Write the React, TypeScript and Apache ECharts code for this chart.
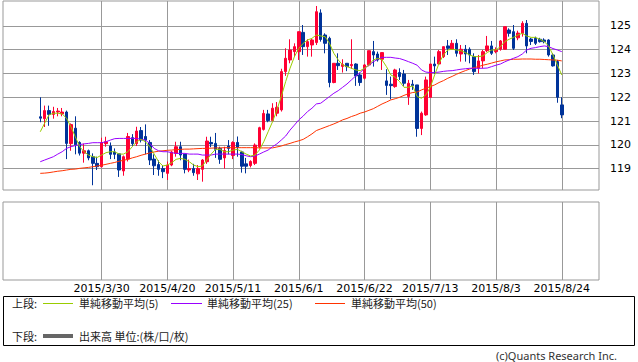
import React, { useEffect, useRef } from "react";
import * as echarts from "echarts";

// slot layout of the time axis (trading-day slots)
const SLOT_OFFSET = 8;
const SLOT_COUNT = 136;
const tickSlots = [22, 37, 52, 67, 82, 97, 112, 127];
const tickLabels = ["2015/3/30", "2015/4/20", "2015/5/11", "2015/6/1", "2015/6/22", "2015/7/13", "2015/8/3", "2015/8/24"];
const yTicks = [119, 120, 121, 122, 123, 124, 125];

const opens = [
  121.18, 121.10, 121.44, 121.28, 121.38, 121.30, 121.38, 120.05, 120.70, 120.10,
  119.65, 119.75, 119.50, 119.22, 119.08, 120.05, 119.95, 119.70, 119.62, 118.90,
  119.40, 120.30, 120.05, 120.60, 120.35, 120.10, 119.40, 119.17, 119.00, 118.80,
  119.15, 119.64, 119.92, 119.61, 118.94, 119.00, 118.78, 118.97, 119.29, 120.10,
  120.06, 119.85, 119.45, 119.95, 119.55, 120.10, 119.70, 119.20, 119.13, 119.22,
  119.92, 120.65, 121.30, 121.02, 121.33, 121.47, 123.08, 123.57, 123.92, 123.92,
  124.73, 124.13, 124.20, 124.30, 125.55, 124.62, 124.48, 122.62, 123.43, 123.30,
  123.43, 123.33, 123.40, 122.94, 122.80, 123.36, 123.92, 123.82, 123.60, 122.69,
  122.55, 122.45, 123.04, 122.98, 122.03, 122.55, 122.52, 120.69, 121.26, 122.00,
  123.40, 123.40, 123.71, 124.16, 124.02, 124.27, 123.82, 124.02, 124.02, 123.71,
  123.22, 123.53, 123.96, 124.16, 123.92, 124.02, 124.02, 124.83, 124.76, 124.50,
  124.69, 125.11, 124.45, 124.48, 124.44, 124.41, 124.41, 123.78, 123.50, 121.68,
];
const closes = [
  121.12, 121.44, 121.28, 121.40, 121.42, 121.38, 120.06, 120.85, 120.00, 119.65,
  119.75, 119.45, 119.22, 119.08, 120.09, 120.13, 119.60, 119.60, 118.94, 119.50,
  120.35, 120.05, 120.58, 120.20, 120.20, 119.36, 119.12, 118.97, 118.87, 119.15,
  119.70, 119.92, 119.57, 118.97, 119.00, 118.83, 119.00, 119.36, 120.16, 120.04,
  119.81, 119.39, 119.76, 119.85, 120.10, 119.90, 119.10, 119.10, 119.30, 119.99,
  120.72, 121.32, 121.02, 121.54, 121.58, 123.08, 123.64, 123.99, 124.13, 124.76,
  124.13, 124.34, 124.41, 125.60, 124.43, 124.27, 122.62, 123.43, 123.33, 123.38,
  123.29, 123.38, 122.90, 122.62, 123.36, 123.96, 123.78, 123.57, 123.88, 122.50,
  122.49, 123.15, 122.87, 122.59, 122.59, 122.49, 120.69, 121.33, 122.73, 123.40,
  123.32, 123.92, 124.13, 124.06, 124.27, 123.85, 124.02, 123.82, 123.78, 123.08,
  123.53, 123.92, 124.16, 123.85, 124.00, 124.37, 124.97, 124.69, 124.06, 124.70,
  125.11, 124.16, 124.35, 124.27, 124.34, 124.34, 123.78, 123.32, 122.00, 121.26,
];
const lows = [
  120.95, 120.75, 120.80, 121.10, 121.20, 121.20, 119.40, 119.75, 119.60, 119.55,
  119.25, 119.35, 118.30, 118.94, 119.05, 119.92, 119.40, 119.40, 118.65, 118.70,
  119.30, 119.95, 119.95, 120.10, 119.60, 119.15, 118.73, 118.70, 118.60, 118.52,
  119.10, 119.50, 119.35, 118.80, 118.85, 118.70, 118.52, 118.45, 119.20, 119.90,
  119.45, 119.20, 119.00, 119.60, 119.40, 119.50, 118.83, 118.80, 119.05, 119.15,
  119.85, 120.60, 120.95, 120.98, 121.20, 121.40, 122.90, 123.43, 123.70, 123.57,
  123.78, 123.71, 123.71, 124.20, 124.34, 123.85, 122.42, 122.59, 123.15, 123.04,
  123.10, 123.20, 122.48, 122.48, 122.75, 123.30, 123.29, 123.50, 123.15, 122.10,
  121.91, 122.40, 122.73, 122.48, 121.68, 122.31, 120.34, 120.41, 121.22, 122.00,
  122.98, 123.36, 123.65, 123.78, 123.99, 123.71, 123.50, 123.50, 123.43, 122.94,
  123.00, 123.22, 123.90, 123.78, 123.85, 123.96, 124.02, 124.55, 123.99, 124.40,
  124.55, 123.85, 124.20, 124.20, 124.30, 124.27, 123.71, 123.29, 121.77, 121.12,
];
const highs = [
  122.00, 121.65, 121.65, 121.60, 121.55, 121.55, 121.44, 120.90, 121.20, 120.15,
  120.05, 119.80, 119.64, 119.50, 120.30, 120.34, 120.10, 119.85, 119.64, 119.55,
  120.50, 120.45, 120.76, 120.75, 120.86, 120.20, 119.60, 119.35, 119.15, 119.30,
  119.75, 120.13, 120.13, 119.61, 119.38, 119.20, 119.15, 119.40, 120.34, 120.34,
  120.50, 119.92, 119.92, 120.20, 120.15, 120.35, 119.75, 119.45, 119.35, 120.06,
  120.76, 121.47, 121.47, 121.75, 121.80, 123.20, 124.06, 124.44, 124.27, 124.76,
  125.04, 124.44, 124.45, 125.84, 125.70, 124.69, 124.55, 123.43, 123.85, 123.60,
  123.43, 124.44, 123.43, 123.04, 123.40, 123.96, 124.37, 123.92, 123.88, 123.18,
  122.87, 123.20, 123.22, 123.15, 122.73, 122.73, 122.52, 121.40, 122.87, 123.40,
  123.71, 123.99, 124.13, 124.41, 124.41, 124.44, 124.20, 124.20, 124.10, 123.85,
  123.78, 123.99, 124.58, 124.37, 124.10, 124.41, 124.97, 124.90, 125.04, 124.80,
  125.20, 125.25, 124.50, 124.55, 124.50, 124.48, 124.44, 123.85, 123.57, 122.00,
];
const ma5 = [
  120.55, 120.91, 121.26, 121.33, 121.33, 121.30, 121.12, 120.76, 120.34, 119.92,
  119.71, 119.57, 119.50, 119.47, 119.57, 119.67, 119.71, 119.71, 119.61, 119.61,
  119.71, 119.92, 120.13, 120.23, 120.13, 119.92, 119.61, 119.29, 119.11, 119.15,
  119.25, 119.39, 119.43, 119.39, 119.29, 119.15, 119.08, 119.11, 119.36, 119.61,
  119.81, 119.81, 119.71, 119.71, 119.78, 119.81, 119.71, 119.61, 119.53, 119.57,
  119.78, 120.13, 120.55, 120.97, 121.47, 122.03, 122.66, 123.22, 123.71, 124.06,
  124.27, 124.41, 124.48, 124.62, 124.58, 124.55, 124.27, 123.85, 123.57, 123.36,
  123.29, 123.22, 123.15, 123.12, 123.22, 123.36, 123.57, 123.64, 123.57, 123.29,
  122.94, 122.84, 122.66, 122.42, 122.42, 122.48, 122.03, 121.96, 122.10, 122.42,
  122.94, 123.43, 123.78, 123.99, 124.02, 123.99, 123.96, 123.88, 123.78, 123.71,
  123.71, 123.74, 123.88, 123.99, 123.99, 124.13, 124.34, 124.44, 124.52, 124.62,
  124.69, 124.58, 124.52, 124.52, 124.44, 124.34, 124.16, 123.78, 123.36, 122.94,
];
const ma25 = [
  119.29, 119.36, 119.43, 119.50, 119.61, 119.71, 119.85, 119.92, 119.97, 120.01,
  120.04, 120.06, 120.09, 120.09, 120.09, 120.13, 120.20, 120.26, 120.27, 120.27,
  120.27, 120.27, 120.27, 120.23, 120.20, 120.06, 119.85, 119.75, 119.71, 119.71,
  119.67, 119.64, 119.64, 119.64, 119.61, 119.61, 119.61, 119.57, 119.57, 119.57,
  119.61, 119.61, 119.61, 119.61, 119.61, 119.61, 119.59, 119.54, 119.50, 119.53,
  119.61, 119.70, 119.78, 119.92, 120.04, 120.20, 120.37, 120.62, 120.83, 121.05,
  121.21, 121.40, 121.54, 121.72, 121.75, 121.89, 122.03, 122.17, 122.28, 122.42,
  122.56, 122.73, 122.90, 123.04, 123.22, 123.35, 123.49, 123.60, 123.68, 123.68,
  123.68, 123.65, 123.63, 123.57, 123.50, 123.43, 123.35, 123.15, 123.06, 123.04,
  123.04, 123.06, 123.09, 123.11, 123.12, 123.15, 123.18, 123.20, 123.22, 123.22,
  123.22, 123.22, 123.23, 123.29, 123.35, 123.40, 123.49, 123.57, 123.64, 123.71,
  123.82, 123.99, 124.06, 124.09, 124.13, 124.16, 124.13, 124.05, 123.99, 123.92,
];
const ma50 = [
  118.80, 118.81, 118.83, 118.86, 118.89, 118.91, 118.94, 118.97, 118.98, 119.01,
  119.03, 119.05, 119.08, 119.11, 119.14, 119.18, 119.22, 119.26, 119.31, 119.35,
  119.39, 119.45, 119.50, 119.56, 119.61, 119.66, 119.70, 119.73, 119.75, 119.77,
  119.78, 119.80, 119.81, 119.82, 119.82, 119.83, 119.84, 119.85, 119.85, 119.86,
  119.87, 119.87, 119.88, 119.88, 119.88, 119.88, 119.88, 119.88, 119.88, 119.88,
  119.87, 119.87, 119.87, 119.87, 119.91, 119.95, 120.01, 120.06, 120.12, 120.17,
  120.23, 120.34, 120.46, 120.60, 120.67, 120.74, 120.81, 120.88, 120.96, 121.05,
  121.11, 121.19, 121.25, 121.33, 121.38, 121.45, 121.52, 121.62, 121.72, 121.80,
  121.89, 121.94, 122.00, 122.08, 122.15, 122.20, 122.22, 122.31, 122.38, 122.45,
  122.52, 122.62, 122.70, 122.80, 122.88, 122.97, 123.05, 123.12, 123.19, 123.25,
  123.29, 123.35, 123.39, 123.44, 123.49, 123.53, 123.57, 123.58, 123.60, 123.60,
  123.61, 123.61, 123.61, 123.60, 123.60, 123.59, 123.58, 123.57, 123.56, 123.53,
];

const legendItems = [
  { label: "単純移動平均(5)", color: "#99cc00" },
  { label: "単純移動平均(25)", color: "#9900ff" },
  { label: "単純移動平均(50)", color: "#ff3300" },
];

const GRID_COLOR = "#999999";
const CJK = '"Noto Sans CJK JP", "Noto Sans", sans-serif';

export default function App() {
  const ref = useRef<HTMLDivElement>(null);

  useEffect(() => {
    if (!ref.current) return;
    const chart = echarts.init(ref.current, undefined, { renderer: "svg" });

    const slots = Array.from({ length: SLOT_COUNT }, (_, k) => String(k));
    const labelMap: Record<number, string> = {};
    tickSlots.forEach((s, i) => (labelMap[s] = tickLabels[i]));

    const candleData = opens.map((o, i) => [i + SLOT_OFFSET, o, closes[i], lows[i], highs[i]]);
    const lineData = (arr: number[]) => arr.map((v, i) => [i + SLOT_OFFSET, v]);

    const gridAxis = (gridIndex: number, showLabels: boolean) => ({
      type: "value",
      gridIndex,
      min: -0.5,
      max: SLOT_COUNT - 0.5,
      axisLine: { show: false },
      axisTick: { show: false, customValues: tickSlots },
      axisLabel: {
        show: showLabels,
        customValues: tickSlots,
        formatter: (v: number) => labelMap[Math.round(v)] ?? "",
        fontSize: 11,
        fontFamily: "DejaVu Sans",
        color: "#000",
        margin: 3,
      },
      splitLine: { show: true, lineStyle: { color: GRID_COLOR, width: 1 } },
    });

    const graphics: any[] = [
      {
        type: "rect",
        shape: { x: 3.5, y: 296.5, width: 631, height: 49 },
        style: { fill: "none", stroke: "#000", lineWidth: 1 },
      },
      {
        type: "text",
        style: { text: "上段:", x: 12, y: 303, font: `11px ${CJK}`, fill: "#222", textVerticalAlign: "middle", verticalAlign: "middle" },
      },
      {
        type: "text",
        style: { text: "下段:", x: 12, y: 336, font: `11px ${CJK}`, fill: "#222", textVerticalAlign: "middle", verticalAlign: "middle" },
      },
      {
        type: "line",
        shape: { x1: 43, y1: 336, x2: 73, y2: 336 },
        style: { stroke: "#666666", lineWidth: 4 },
      },
      {
        type: "text",
        style: { text: "出来高 単位:(株/口/枚)", x: 79, y: 336, font: `11px ${CJK}`, fill: "#222", textVerticalAlign: "middle", verticalAlign: "middle" },
      },
      {
        type: "text",
        style: { text: "(c)Quants Research Inc.", x: 617, y: 355, font: '11px "Noto Sans", sans-serif', fill: "#333", textAlign: "right", textVerticalAlign: "middle", verticalAlign: "middle" },
      },
    ];
    const legendX = [[43, 73, 79], [171, 202, 207], [315, 345, 351]];
    legendItems.forEach((it, i) => {
      const [a, b, t] = legendX[i];
      graphics.push({
        type: "line",
        shape: { x1: a, y1: 303.5, x2: b, y2: 303.5 },
        style: { stroke: it.color, lineWidth: 1 },
      });
      graphics.push({
        type: "text",
        style: { text: it.label, x: t, y: 303, font: `11px ${CJK}`, fill: "#222", textVerticalAlign: "middle", verticalAlign: "middle" },
      });
    });

    chart.setOption({
      animation: false,
      backgroundColor: "#ffffff",
      grid: [
        { left: 3, right: 39, top: 1, height: 189, show: true, borderColor: GRID_COLOR, borderWidth: 1 },
        { left: 3, right: 39, top: 202, height: 78, show: true, borderColor: GRID_COLOR, borderWidth: 1 },
      ],
      xAxis: [
        { type: "category", gridIndex: 0, data: slots, boundaryGap: true, show: false },
        gridAxis(0, false),
        gridAxis(1, true),
      ],
      yAxis: [
        {
          type: "value",
          gridIndex: 0,
          position: "right",
          min: 118.1,
          max: 126.05,
          axisLine: { show: false },
          axisTick: { show: true, length: 6, customValues: yTicks, lineStyle: { color: GRID_COLOR } },
          axisLabel: { customValues: yTicks, margin: 11, fontSize: 11, fontFamily: "DejaVu Sans", color: "#000" },
          splitLine: { show: true, lineStyle: { color: GRID_COLOR, width: 1 } },
        },
        { type: "value", gridIndex: 1, min: 0, max: 1, show: false, splitLine: { show: false } },
      ],
      series: [
        {
          type: "candlestick",
          xAxisIndex: 0,
          yAxisIndex: 0,
          data: candleData,
          encode: { x: 0, y: [1, 2, 3, 4] },
          barWidth: 3,
          itemStyle: {
            color: "#ff0033",
            color0: "#003399",
            borderColor: "#ff0033",
            borderColor0: "#003399",
            borderWidth: 1,
          },
        },
        ...[ma50, ma25, ma5].map((arr, k) => ({
          type: "line",
          xAxisIndex: 0,
          yAxisIndex: 0,
          data: lineData(arr),
          symbol: "none",
          lineStyle: { color: ["#ff3300", "#9900ff", "#99cc00"][k], width: 1 },
          z: 3,
        })),
      ],
      graphic: graphics,
    });

    return () => chart.dispose();
  }, []);

  return (
    <div
      ref={ref}
      style={{ position: "absolute", left: 0, top: 0, width: 638, height: 362, background: "#fff" }}
    />
  );
}
